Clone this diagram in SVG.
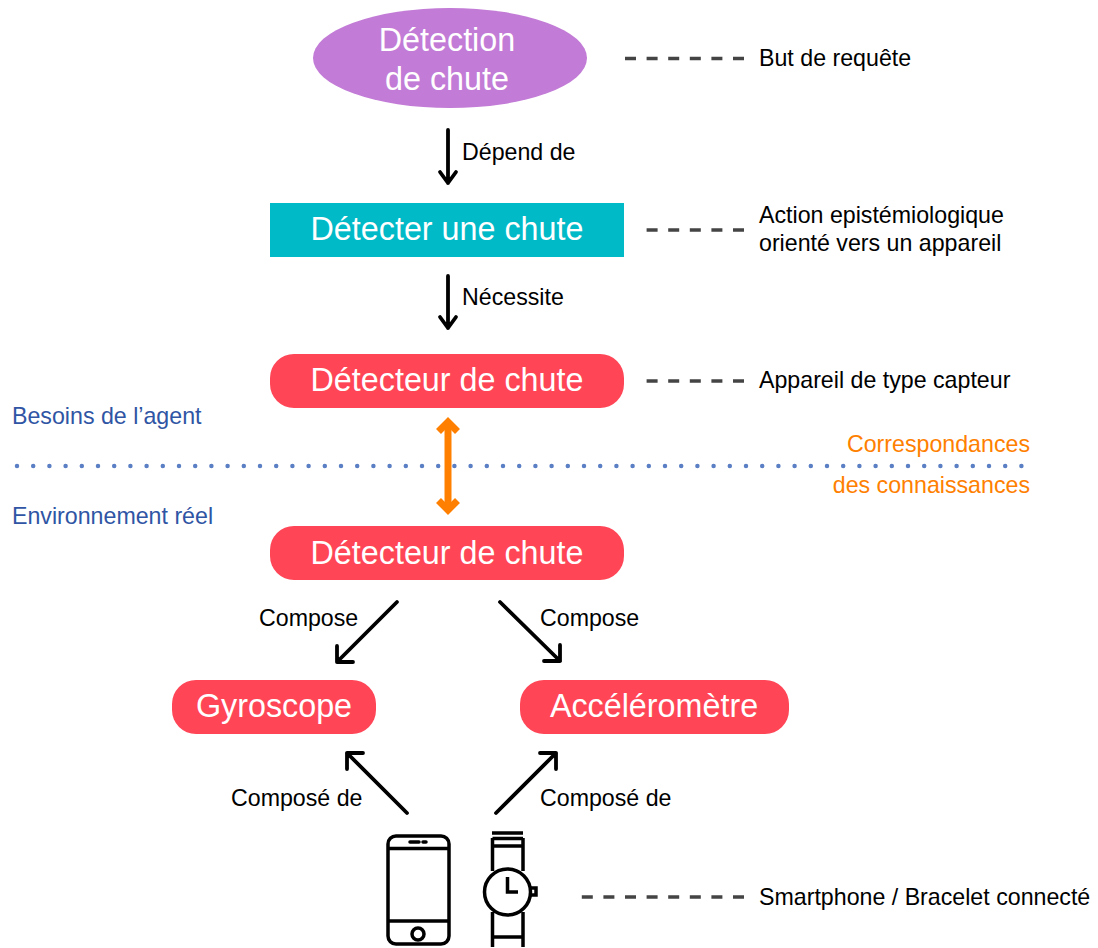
<svg xmlns="http://www.w3.org/2000/svg" width="1098" height="948" viewBox="0 0 1098 948">
<style>
text{font-family:"Liberation Sans",Arial,sans-serif}
.big{font-size:32.3px;fill:#fff;text-anchor:middle}
.lab{font-size:23.2px;fill:#000}
.blue{font-size:23.2px;fill:#2f55a4}
.or{font-size:23.2px;fill:#ff8000;text-anchor:end}
.dash{stroke:#444;stroke-width:3.4;stroke-dasharray:11 10.6;fill:none}
.arr{stroke:#000;stroke-width:3.8;fill:none;stroke-linecap:round;stroke-linejoin:round}
.pill{fill:#ff4556}
.ic{stroke:#000;stroke-width:3.5;fill:none}
</style>
<rect width="1098" height="948" fill="#fff"/>
<g id="connectors">
<path class="arr" d="M448 130V183M440 172L448 183L456 172"/>
<path class="arr" d="M448 276V328M440 317L448 328L456 317"/>
<path class="arr" d="M397 602L337 662M337 646L337 662L353 662"/>
<path class="arr" d="M500 602L560 661M544 661L560 661L560 645"/>
<path class="arr" d="M407 813L347 753M347 769L347 753L363 753"/>
<path class="arr" d="M496 813L556 753M540 753L556 753L556 769"/>
<path d="M448 425V508" stroke="#ff8000" stroke-width="7" fill="none"/>
<path d="M438.500 431.500L448 422L457.500 431.500M438.500 500.500L448 510L457.500 500.500" stroke="#ff8000" stroke-width="7" fill="none"/>
<path class="dash" d="M625 58.500H745"/>
<path class="dash" d="M646.600 230H745"/>
<path class="dash" d="M646.600 381H745"/>
<path class="dash" d="M581.800 897H745"/>
<path d="M17 466H1028" stroke="#5b7fc4" stroke-width="4.5" stroke-linecap="round" stroke-dasharray="0 16.2" fill="none"/>
</g>
<g id="n-goal"><ellipse cx="450" cy="58" rx="137" ry="50" fill="#c27bd6"/><text class="big" x="447" y="51">Détection</text><text class="big" x="447" y="90">de chute</text></g>
<g id="n-action"><rect x="270" y="203" width="354" height="54" fill="#00bac8"/><text class="big" x="447" y="240">Détecter une chute</text></g>
<g id="n-det1"><rect class="pill" x="270" y="354" width="354" height="54" rx="24"/><text class="big" x="447" y="391">Détecteur de chute</text></g>
<g id="n-det2"><rect class="pill" x="270" y="526" width="354" height="54" rx="24"/><text class="big" x="447" y="563.500">Détecteur de chute</text></g>
<g id="n-gyro"><rect class="pill" x="172" y="680" width="204" height="54" rx="24"/><text class="big" x="274" y="717">Gyroscope</text></g>
<g id="n-acc"><rect class="pill" x="520" y="680" width="269" height="54" rx="24"/><text class="big" x="654" y="717">Accéléromètre</text></g>
<g id="n-phone" class="ic">
<rect x="388" y="836" width="61" height="108" rx="8"/>
<path d="M388 848.500H449M388 921H449"/>
<circle cx="418" cy="934" r="6"/>
<path d="M410 842H419M423 842H426" stroke-linecap="round"/>
</g>
<g id="n-watch" class="ic">
<path d="M492 833H523M492.500 838V871M523 838V871M492.500 838.500H523M492.500 846H523M492.500 912V947M523 912V947M492.500 937H523"/>
<circle cx="507.500" cy="892" r="23"/>
<path d="M507.500 877V892H518M530 888H536V895H530"/>
</g>
<g id="labels">
<text class="lab" x="462" y="160">Dépend de</text>
<text class="lab" x="462" y="305">Nécessite</text>
<text class="lab" x="259" y="626">Compose</text>
<text class="lab" x="540" y="626">Compose</text>
<text class="lab" x="231" y="806">Composé de</text>
<text class="lab" x="540" y="806">Composé de</text>
<text class="lab" x="759" y="66">But de requête</text>
<text class="lab" x="759" y="223">Action epistémiologique</text>
<text class="lab" x="759" y="251">orienté vers un appareil</text>
<text class="lab" x="759" y="388">Appareil de type capteur</text>
<text class="lab" x="759" y="905">Smartphone / Bracelet connecté</text>
<text class="blue" x="12" y="424">Besoins de l’agent</text>
<text class="blue" x="12" y="524">Environnement réel</text>
<text class="or" x="1030" y="452">Correspondances</text>
<text class="or" x="1030" y="493">des connaissances</text>
</g>
</svg>
